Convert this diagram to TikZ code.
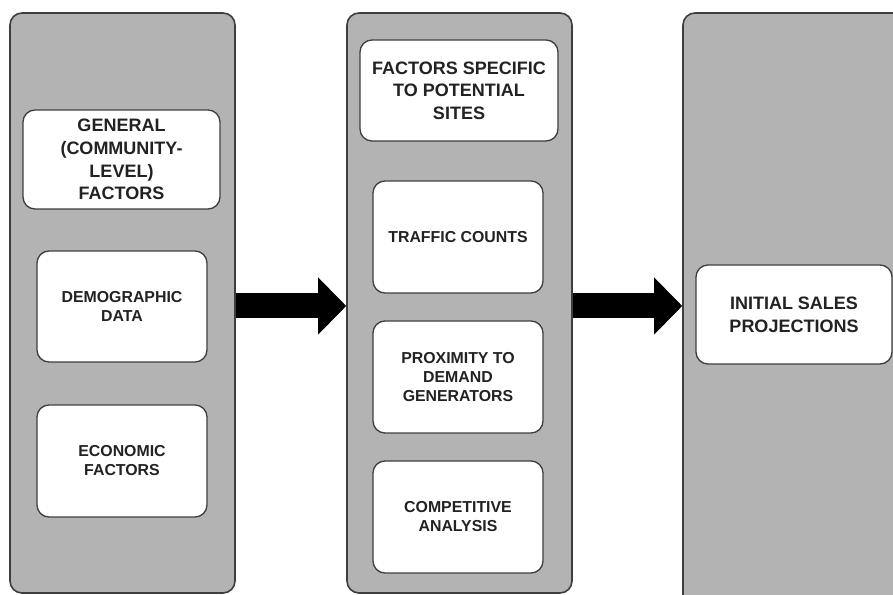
\documentclass[tikz,border=0pt]{standalone}
\usepackage{fontspec}
\setmainfont{Liberation Sans}
\usetikzlibrary{arrows.meta}

\definecolor{panelgray}{RGB}{179,179,179}
\definecolor{edgegray}{RGB}{62,62,62}
\definecolor{inkgray}{RGB}{34,34,34}

\tikzset{every picture/.style={line width=0.75pt}}
\tikzset{
  panel/.style={draw=edgegray, fill=panelgray, line width=1.2pt, rounded corners=9pt, inner sep=0pt},
  factorbox/.style={draw=edgegray, fill=white, line width=1pt, rounded corners=9pt, align=center, text=inkgray, inner sep=0pt},
  bigtext/.style={font=\fontsize{13.5}{17}\selectfont\bfseries},
  smalltext/.style={font=\fontsize{11.9}{14.2}\selectfont\bfseries},
  fatarrow/.style={draw=black, line width=18.75pt, -{Triangle[length=21pt,width=42.75pt,line width=0pt]}},
}

\begin{document}
\begin{tikzpicture}[x=0.75pt,y=0.75pt,yscale=-1,xscale=1]
		%set diagram frame: 893 wide, 595 high
		\clip (0,0) rectangle (893,595);

		% Rounded Rect [panels]
		\node[panel, minimum width=168.75pt, minimum height=435pt] (community) at (122.5,303) {};
		\node[panel, minimum width=168.75pt, minimum height=435pt] (sites) at (459.5,303) {};
		\node[panel, minimum width=170.25pt, minimum height=455.25pt] (projection) at (796.5,316.5) {};

		% Rounded Rect [left column]
		\node[factorbox, bigtext, minimum width=147.75pt, minimum height=74.25pt] (general) at (121.5,159.5) {GENERAL\\(COMMUNITY-\\LEVEL)\\FACTORS};
		\node[factorbox, smalltext, minimum width=127.5pt, minimum height=83.25pt] (demographic) at (122,306.5) {DEMOGRAPHIC\\DATA};
		\node[factorbox, smalltext, minimum width=127.5pt, minimum height=84pt] (economic) at (122,461) {ECONOMIC\\FACTORS};

		% Rounded Rect [middle column]
		\node[factorbox, bigtext, minimum width=148.5pt, minimum height=75.75pt] (specific) at (459,90.5) {FACTORS SPECIFIC\\TO POTENTIAL\\SITES};
		\node[factorbox, smalltext, minimum width=127.5pt, minimum height=84pt] (traffic) at (458,237) {TRAFFIC COUNTS};
		\node[factorbox, smalltext, minimum width=127.5pt, minimum height=84pt] (proximity) at (458,377) {PROXIMITY TO\\DEMAND\\GENERATORS};
		\node[factorbox, smalltext, minimum width=127.5pt, minimum height=84pt] (competitive) at (458,517) {COMPETITIVE\\ANALYSIS};

		% Rounded Rect [right column]
		\node[factorbox, bigtext, minimum width=147pt, minimum height=74.25pt] (sales) at (794,314.5) {INITIAL SALES\\PROJECTIONS};

		% Block Arrows
		\coordinate (arrowline) at (0,306);
		\draw[fatarrow] (community.east |- arrowline) -- (sites.west |- arrowline);
		\draw[fatarrow] (sites.east |- arrowline) -- (projection.west |- arrowline);

		\end{tikzpicture}
\end{document}
